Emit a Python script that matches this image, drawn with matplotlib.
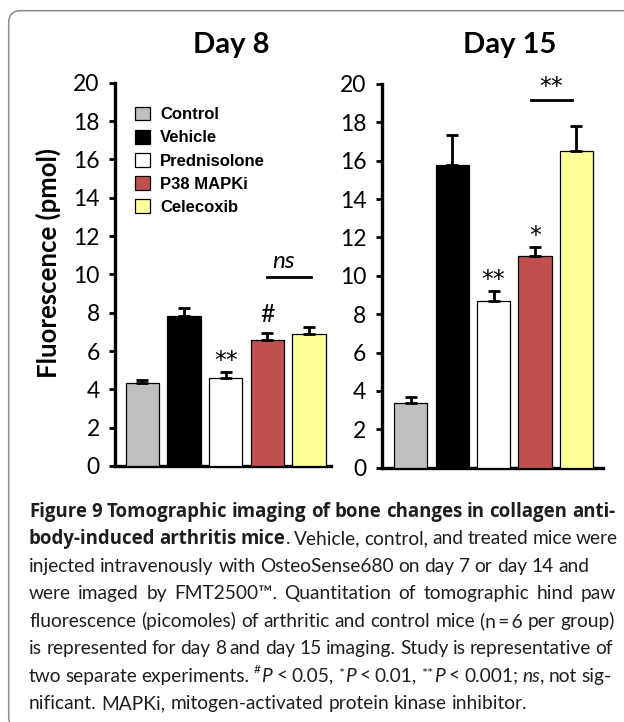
import matplotlib
matplotlib.use('Agg')
import matplotlib.pyplot as plt
from matplotlib.patches import FancyBboxPatch
from matplotlib.transforms import IdentityTransform
import numpy as np

groups = ['Control', 'Vehicle', 'Prednisolone', 'P38 MAPKi', 'Celecoxib']
colors = ['#bfbfbf', '#000000', '#ffffff', '#c0504d', '#ffff99']

day8_mean = [4.32, 7.83, 4.61, 6.58, 6.91]
day8_err = [0.18, 0.40, 0.28, 0.38, 0.36]
day15_mean = [3.39, 15.78, 8.71, 11.02, 16.53]
day15_err = [0.31, 1.57, 0.52, 0.49, 1.29]

day8_sig = ['', '', '**', '#', '']
day15_sig = ['', '', '**', '*', '']

W, H = 624, 722
fig = plt.figure(figsize=(W / 100, H / 100), dpi=100)
renderer = fig.canvas.get_renderer()


def fx(px):
    return px / W


def fy(py):
    return 1 - py / H


# rounded panel frame
frame = FancyBboxPatch((8.7, -7), 700, H - 10.7 + 7,
                       boxstyle='round,pad=0,rounding_size=12',
                       transform=IdentityTransform(), fc='none',
                       ec='#8c8c8c', lw=1.1)
fig.patches.append(frame)


def panel(rect, xlim, means, errs, sig, title, title_x):
    ax = fig.add_axes(rect)
    x = np.arange(len(means))
    bars = ax.bar(x, means, 0.8, color=colors, edgecolor='black', lw=0.9,
                  yerr=[np.zeros(len(errs)), errs], capsize=4.2,
                  error_kw=dict(ecolor='black', elinewidth=2.0, capthick=2.0),
                  zorder=3)
    ax.set_xlim(*xlim)
    ax.set_ylim(0, 20)
    ax.set_yticks(range(0, 21, 2))
    for s in ['top', 'right']:
        ax.spines[s].set_visible(False)
    for s in ['left', 'bottom']:
        ax.spines[s].set_linewidth(2.4)
    ax.set_xticks([])
    ax.tick_params(axis='y', direction='out', length=4, width=2,
                   labelsize=16.5, pad=7)
    for lab in ax.get_yticklabels():
        lab.set_fontfamily('Lato')
    for i, s in enumerate(sig):
        if not s:
            continue
        top = means[i] + errs[i]
        if s == '#':
            ax.text(x[i], top + 0.57, s, ha='center', va='baseline',
                    fontsize=18, family='Lato')
        else:
            ax.text(x[i], top + 0.2, s, ha='center', va='baseline',
                    fontsize=17, family='DejaVu Sans')
    fig.text(fx(title_x), fy(53), title, ha='center', va='baseline',
             fontsize=21, family='Lato', weight='bold')
    return ax, bars


ax1, bars1 = panel([fx(115), fy(466), fx(216), 383.3 / H], (-0.66, 4.53),
                   day8_mean, day8_err, day8_sig, 'Day 8', 231)
ax2, bars2 = panel([fx(381.7), fy(467.7), fx(221.3), 383.7 / H], (-0.70, 4.64),
                   day15_mean, day15_err, day15_sig, 'Day 15', 510)

# significance brackets
ax1.plot([3.0, 4.05], [9.88, 9.88], color='black', lw=2.0, clip_on=False)
ax1.text(3.38, 10.32, 'ns', ha='center', va='baseline', fontsize=17.5,
         family='Lato', style='italic')
ax2.plot([2.9, 3.9], [19.14, 19.14], color='black', lw=2.0, clip_on=False)
ax2.text(3.38, 19.48, '**', ha='center', va='baseline', fontsize=17,
         family='DejaVu Sans', clip_on=False)

fig.text(fx(48), fy(262.5), 'Fluorescence (pmol)', rotation=90, ha='center',
         va='center', fontsize=18.5, family='Lato', weight='bold')

ax1.legend(bars1.patches, groups, loc='upper left', frameon=False,
           bbox_to_anchor=(fx(135), fy(106.5)), bbox_transform=fig.transFigure,
           prop=dict(family='Liberation Sans', weight='bold', size=12),
           handlelength=0.9, handleheight=0.9, handletextpad=0.6,
           labelspacing=0.45, borderpad=0, borderaxespad=0)

# caption, set line by line
cap_lines = [
    [('b', 'Figure 9 Tomographic imaging of bone changes in collagen anti-')],
    [('b', 'body-induced arthritis mice'), ('r', '. Vehicle, control, and treated mice were')],
    [('r', 'injected intravenously with OsteoSense680 on day 7 or day 14 and')],
    [('r', 'were imaged by FMT2500\u2122. Quantitation of tomographic hind paw')],
    [('r', 'fluorescence (picomoles) of arthritic and control mice (n\u2009=\u20096 per group)')],
    [('r', 'is represented for day 8 and day 15 imaging. Study is representative of')],
    [('r', 'two separate experiments. '), ('s', '#'), ('i', 'P'), ('r', ' < 0.05, '),
     ('a', '*'), ('i', 'P'), ('r', ' < 0.01, '), ('a', '**'), ('i', 'P'),
     ('r', ' < 0.001; '), ('i', 'ns'), ('r', ', not sig-')],
    [('r', 'nificant. MAPKi, mitogen-activated protein kinase inhibitor.')],
]
line_ends = [615, 618, 589, 616, 614.7, 613, 610, None]
cap_x0 = 29
cap_y0 = 516.7
cap_step = 27.5

probe = fig.text(0, 0, cap_lines[-1][0][1], fontsize=12, family='Lato')
cap_size = 12 * 494 / probe.get_window_extent(renderer).width
probe.remove()


def style_kw(st):
    kw = dict(family='Lato', fontsize=cap_size, color='#1e1e1e')
    if st == 'b':
        kw['family'] = 'Open Sans'
        kw['weight'] = 'bold'
        kw['fontsize'] = cap_size * 0.98
    elif st == 'i':
        kw['style'] = 'italic'
    elif st == 's':
        kw['fontsize'] = cap_size * 0.62
    elif st == 'a':
        kw['fontsize'] = cap_size * 0.75
    return kw


def raise_px(st):
    if st == 's':
        return cap_size * 0.45 / 0.72
    if st == 'a':
        return cap_size * 0.2 / 0.72
    return 0


def text_width(s, kw):
    t = fig.text(0, 0, s, **kw)
    w = t.get_window_extent(renderer).width
    t.remove()
    return w


space_w = text_width('a a', style_kw('r')) - text_width('aa', style_kw('r'))

for n, (runs, x_end) in enumerate(zip(cap_lines, line_ends)):
    words = [[]]
    for st, txt in runs:
        for k, part in enumerate(txt.split(' ')):
            if k > 0:
                words.append([])
            if part:
                words[-1].append((st, part))
    words = [w for w in words if w]
    widths = [[text_width(p, style_kw(st)) for st, p in w] for w in words]
    total = sum(sum(w) for w in widths)
    gap = space_w if x_end is None else (x_end - cap_x0 - total) / (len(words) - 1)
    y = cap_y0 + n * cap_step
    x = cap_x0
    for w, ws in zip(words, widths):
        for (st, p), pw in zip(w, ws):
            fig.text(fx(x), fy(y - raise_px(st)), p, va='baseline', **style_kw(st))
            x += pw + (0.5 if st in 'sa' else 0)
        x += gap

fig.savefig('out.png', dpi=100)
